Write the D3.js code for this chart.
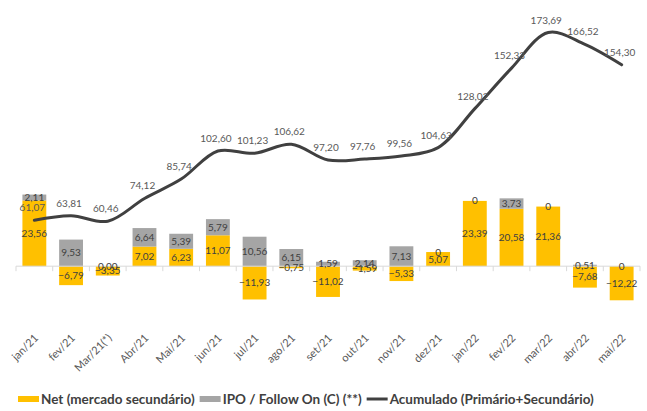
<!DOCTYPE html>
<html>
<head>
<meta charset="utf-8">
<script src="https://cdn.jsdelivr.net/npm/d3@7"></script>
<style>
  body { margin: 0; background: #fff; }
  text { font-family: Lato, "Open Sans", sans-serif; }
</style>
</head>
<body>
<svg id="chart" width="647" height="411"></svg>
<script>
// months
var categories = ["jan/21","fev/21","Mar/21(*)","Abr/21","Mai/21","jun/21","jul/21","ago/21",
                  "set/21","out/21","nov/21","dez/21","jan/22","fev/22","mar/22","abr/22","mai/22"];
// Net (mercado secundário)
var netValues = [23.56, -6.79, -3.35, 7.02, 6.23, 11.07, -11.93, -0.75,
                 -11.02, -1.59, -5.33, 5.07, 23.39, 20.58, 21.36, -7.68, -12.22];
// IPO / Follow On (C) (**)
var ipoValues = [2.11, 9.53, 0.001, 6.64, 5.39, 5.79, 10.56, 6.15,
                 1.59, 2.14, 7.13, 0, 0, 3.73, 0, 0.51, 0];
// Acumulado (Primário+Secundário)
var accValues = [61.07, 63.81, 60.46, 74.12, 85.74, 102.60, 101.23, 106.62,
                 97.20, 97.76, 99.56, 104.63, 128.02, 152.33, 173.69, 166.52, 154.30];
var legendLabels = ["Net (mercado secundário)", "IPO / Follow On (C) (**)", "Acumulado (Primário+Secundário)"];

var colNet = "#FFC000", colIpo = "#A5A5A5", colLine = "#404040";

var svg = d3.select("#chart");

/*
 * scales: bars on primary axis, line on secondary axis
 */
var x = d3.scaleBand().domain(categories).range([16, 640])
    .paddingInner(0.35).paddingOuter(0.175);
var yBar = d3.scaleLinear().domain([-20, 87.5]).range([322, 22]);
var yLine = d3.scaleLinear().domain([0, 180]).range([322, 22]);

var fmt = function(v) {
    if (v === 0) return "0";
    return d3.format(".2f")(v).replace(".", ",");
}

/*
 * Excel-like stacking: positives stack up from zero, negatives down;
 * the IPO segment sits on top of a positive net bar, otherwise on zero
 */
var segs = [];
categories.forEach(function(c, i) {
    var n = netValues[i], p = ipoValues[i];
    segs.push({cat: c, key: "net", v: n, y0: 0, y1: n});
    var base = n > 0 ? n : 0;
    segs.push({cat: c, key: "ipo", v: p, y0: base, y1: base + p});
});
var colors = {net: colNet, ipo: colIpo};

// bars
svg.append("g").selectAll("rect")
    .data(segs)
    .join("rect")
        .attr("x", function(d) { return x(d.cat); })
        .attr("width", x.bandwidth())
        .attr("y", function(d) { return yBar(Math.max(d.y0, d.y1)); })
        .attr("height", function(d) { return Math.abs(yBar(d.y0) - yBar(d.y1)); })
        .attr("fill", function(d) { return colors[d.key]; });

// category axis line and ticks
var axisY = yBar(0);
var gap = (x.step() - x.bandwidth()) / 2;
var bounds = categories.map(function(c) { return x(c) - gap; });
bounds.push(x(categories[categories.length - 1]) + x.bandwidth() + gap);
var ax = svg.append("g").attr("stroke", "#D9D9D9").attr("stroke-width", 1);
ax.append("line").attr("x1", bounds[0]).attr("x2", bounds[bounds.length - 1])
    .attr("y1", axisY).attr("y2", axisY);
ax.selectAll("line.tick").data(bounds).join("line").attr("class", "tick")
    .attr("x1", function(d) { return d; }).attr("x2", function(d) { return d; })
    .attr("y1", axisY).attr("y2", axisY + 5);

// bar labels, centred in each segment
svg.append("g").selectAll("text")
    .data(segs)
    .join("text")
        .attr("x", function(d) { return x(d.cat) + x.bandwidth() / 2; })
        .attr("y", function(d) { return (yBar(d.y0) + yBar(d.y1)) / 2; })
        .attr("dy", "0.35em")
        .attr("text-anchor", "middle")
        .attr("font-size", 10)
        .attr("fill", "#404040")
        .text(function(d) { return fmt(d.v); });

// accumulated line
var line = d3.line()
    .x(function(d, i) { return x(categories[i]) + x.bandwidth() / 2; })
    .y(function(d) { return yLine(d); })
    .curve(d3.curveCatmullRom.alpha(0.5));
svg.append("path").datum(accValues)
    .attr("d", line)
    .attr("fill", "none")
    .attr("stroke", colLine)
    .attr("stroke-width", 3)
    .attr("stroke-linecap", "round");

svg.append("g").selectAll("text")
    .data(accValues)
    .join("text")
        .attr("x", function(d, i) { return x(categories[i]) + x.bandwidth() / 2 - 2; })
        .attr("y", function(d) { return yLine(d) - 9; })
        .attr("text-anchor", "middle")
        .attr("font-size", 10)
        .attr("fill", "#595959")
        .text(fmt);

// category labels
svg.append("g").selectAll("text")
    .data(categories)
    .join("text")
        .attr("transform", function(d) {
            return "translate(" + (x(d) + x.bandwidth() / 2 + 2) + "," + 336 + ") rotate(-45)";
        })
        .attr("text-anchor", "end")
        .attr("dy", "0.35em")
        .attr("font-size", 11)
        .attr("fill", "#595959")
        .text(function(d) { return d; });

// legend
var lg = svg.append("g").attr("transform", "translate(18,399)");
var lx = 0;
legendLabels.forEach(function(t, i) {
    if (i < 2)
        lg.append("rect").attr("x", lx).attr("y", -3).attr("width", 21).attr("height", 6)
            .attr("fill", i == 0 ? colNet : colIpo);
    else
        lg.append("line").attr("x1", lx).attr("x2", lx + 21).attr("y1", 0).attr("y2", 0)
            .attr("stroke", colLine).attr("stroke-width", 3);
    var txt = lg.append("text").attr("x", lx + 23).attr("dy", "0.35em")
        .attr("font-size", 13.5).attr("font-weight", "bold").attr("fill", "#404040")
        .text(t);
    lx += 23 + txt.node().getComputedTextLength() + 5;
});
</script>
</body>
</html>
